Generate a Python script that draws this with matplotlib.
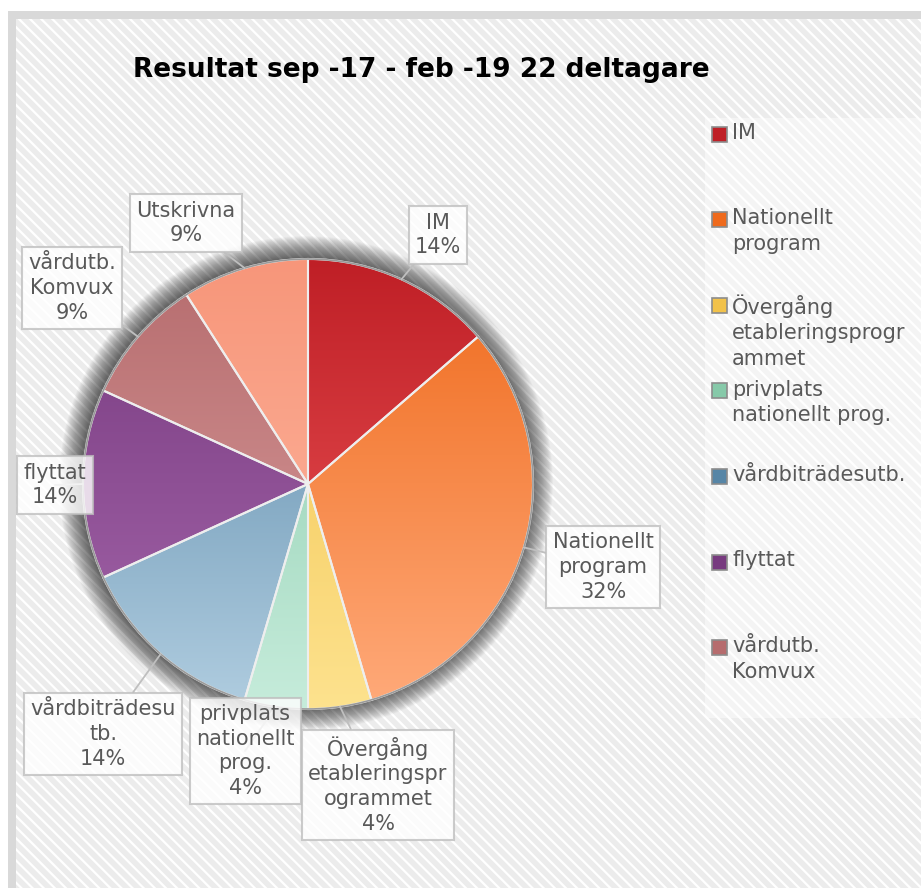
import numpy as np
import matplotlib
matplotlib.use("Agg")
import matplotlib.pyplot as plt
from matplotlib.patches import Rectangle, Circle
from matplotlib.colors import LinearSegmentedColormap

# data (22 deltagare)
categories = ["IM", "Nationellt program", "Övergång etableringsprogrammet",
              "privplats nationellt prog.", "vårdbiträdesutb.", "flyttat",
              "vårdutb. Komvux", "Utskrivna"]
counts = [3, 7, 1, 1, 3, 3, 2, 2]
pct_labels = ["14%", "32%", "4%", "4%", "14%", "14%", "9%", "9%"]
slice_names = ["IM", "Nationellt\nprogram", "Övergång\netableringspr\nogrammet",
               "privplats\nnationellt\nprog.", "vårdbiträdesu\ntb.", "flyttat",
               "vårdutb.\nKomvux", "Utskrivna"]
legend_names = ["IM", "Nationellt\nprogram", "Övergång\netableringsprogr\nammet",
                "privplats\nnationellt prog.", "vårdbiträdesutb.", "flyttat",
                "vårdutb.\nKomvux"]

dark = ["#bf1f26", "#ef6a1c", "#f2c24a", "#86c9a9", "#5685a6", "#773a7f", "#b66c6e", "#f7967a"]
light = ["#f05a5c", "#ffaa7a", "#fde28e", "#c6ecdb", "#b0cde0", "#a566ab", "#dba0a0", "#ffbaa4"]

W, H = 921, 888
fig = plt.figure(figsize=(W / 100, H / 100), dpi=100)
ax = fig.add_axes([0, 0, 1, 1])
plt.rcParams['hatch.linewidth'] = 1.6

def py(y):  # pixel row -> data y
    return H - y

# frame + hatched chart area
ax.add_patch(Rectangle((8, 0), W, py(11), facecolor="#d9d9d9", edgecolor="none", zorder=0))
ax.add_patch(Rectangle((16, 0), W, py(19), facecolor="#ececec", edgecolor="white",
                       hatch="\\\\\\", linewidth=0, zorder=0.5))
# legend backdrop
ax.add_patch(Rectangle((705, py(718)), W - 705, 600, facecolor="white", alpha=0.45,
                       edgecolor="none", zorder=1))

cx, cy, r = 308, py(484), 225

# soft shadow
for k in range(36):
    ax.add_patch(Circle((cx - 2, cy + 1), r + 1 + k * 0.6, facecolor="black",
                        alpha=0.018, edgecolor="none", zorder=1.5))

wedges, _ = ax.pie(counts, colors=dark, startangle=90, counterclock=False,
                   center=(cx, cy), radius=r, frame=True,
                   wedgeprops=dict(edgecolor="#eeeeee", linewidth=1.5, zorder=3))

grad = np.linspace(0, 1, 256).reshape(-1, 1)
for w, c0, c1 in zip(wedges, dark, light):
    cm = LinearSegmentedColormap.from_list("g", [c0, c1])
    im = ax.imshow(grad, extent=(cx - r, cx + r, cy - r, cy + r), origin="upper",
                   aspect="auto", cmap=cm, zorder=3.2)
    im.set_clip_path(w)
    w.set_facecolor("none")
    w.set_zorder(3.5)
ax.add_patch(Circle((cx, cy), r, facecolor="none", edgecolor="#9a9a9a", lw=1.2, zorder=3.6))

# data labels (callouts)
label_pos = [(438, 235), (603, 567), (378, 785), (245, 751), (103, 734),
             (55, 485), (72, 288), (186, 223)]
for w, name, pct, (lx, ly) in zip(wedges, slice_names, pct_labels, label_pos):
    mid = np.deg2rad((w.theta1 + w.theta2) / 2)
    edge = (cx + r * np.cos(mid), cy + r * np.sin(mid))
    ax.annotate(name + "\n" + pct, xy=edge, xytext=(lx, py(ly)),
                ha="center", va="center", fontsize=15, color="#595959",
                linespacing=1.3, zorder=5,
                bbox=dict(boxstyle="square,pad=0.3", facecolor="white", alpha=0.8,
                          edgecolor="#bfbfbf", linewidth=1.5),
                arrowprops=dict(arrowstyle="-", color="#bfbfbf", lw=1.3,
                                shrinkA=0, shrinkB=0))

# legend (clipped at the right edge like the original)
for i, name in enumerate(legend_names):
    y0 = 135 + i * 85.5
    ax.add_patch(Rectangle((712, py(y0) - 7), 15, 15, facecolor=dark[i],
                           edgecolor="#8c8c8c", lw=1.2, zorder=5))
    ax.text(732, py(y0) + 12, name, ha="left", va="top", fontsize=15,
            color="#595959", linespacing=1.35, zorder=5)

ax.text(421, py(70), "Resultat sep -17 - feb -19 22 deltagare", ha="center", va="center",
        fontsize=19, fontweight="bold", color="black", zorder=5)

ax.set_xlim(0, W)
ax.set_ylim(0, H)
ax.axis("off")
fig.savefig("out.png", dpi=100, facecolor="white")
